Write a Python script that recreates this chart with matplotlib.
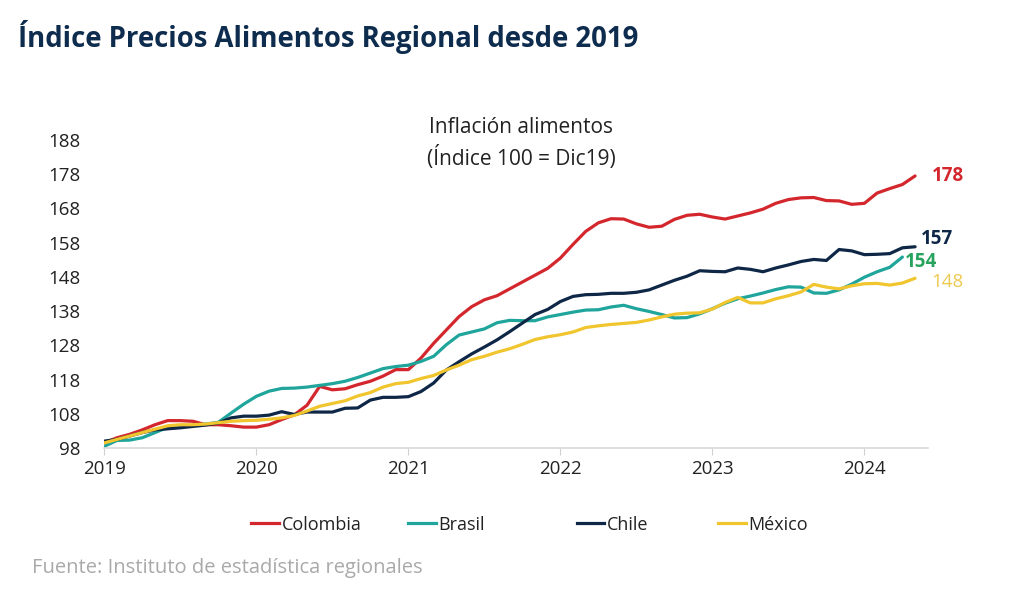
import matplotlib.pyplot as plt
from matplotlib.lines import Line2D
import numpy as np

plt.rcParams['font.family'] = ['Open Sans', 'DejaVu Sans']

# monthly index, Jan 2019 - May 2024
years = ['2019', '2020', '2021', '2022', '2023', '2024']
yticks = [98, 108, 118, 128, 138, 148, 158, 168, 178, 188]

colombia = [99.5, 101.0, 102.0, 103.3, 104.8, 106.0, 106.0, 105.8, 104.8, 104.8, 104.5, 104.1,
            104.1, 104.8, 106.3, 107.7, 110.5, 116.0, 115.0, 115.3, 116.5, 117.5, 119.0, 120.9,
            120.9, 124.3, 128.6, 132.5, 136.4, 139.3, 141.3, 142.5, 144.5, 146.5, 148.5, 150.5,
            153.5, 157.5, 161.3, 163.8, 165.0, 164.9, 163.5, 162.5, 162.8, 164.8, 166.0, 166.3,
            165.5, 164.9, 165.8, 166.7, 167.8, 169.5, 170.6, 171.1, 171.2, 170.3, 170.2, 169.2,
            169.5, 172.5, 173.8, 175.0, 177.5]
brasil = [98.5, 100.2, 100.3, 101.0, 102.5, 104.0, 104.3, 104.6, 105.0, 105.5, 108.2, 110.8,
          113.1, 114.6, 115.4, 115.5, 115.8, 116.3, 116.8, 117.5, 118.6, 119.9, 121.2, 121.8,
          122.2, 123.3, 124.8, 128.2, 131.0, 131.9, 132.8, 134.6, 135.3, 135.2, 135.2, 136.3,
          137.0, 137.7, 138.3, 138.4, 139.2, 139.7, 138.7, 137.9, 137.0, 136.0, 136.1, 137.2,
          138.7, 140.3, 141.6, 142.4, 143.3, 144.3, 145.1, 145.0, 143.3, 143.2, 144.2, 145.9,
          147.9, 149.5, 150.8, 153.8]
chile = [100.0, 100.5, 101.5, 102.5, 103.3, 103.6, 103.9, 104.3, 104.7, 105.3, 106.8, 107.3,
         107.3, 107.6, 108.6, 107.8, 108.5, 108.5, 108.5, 109.6, 109.7, 112.0, 112.8, 112.8,
         113.0, 114.5, 117.0, 120.8, 123.2, 125.5, 127.5, 129.6, 132.0, 134.5, 137.0, 138.5,
         140.8, 142.3, 142.8, 142.9, 143.2, 143.2, 143.5, 144.2, 145.6, 147.0, 148.2, 149.8,
         149.6, 149.5, 150.6, 150.2, 149.5, 150.6, 151.5, 152.5, 153.1, 152.8, 156.0, 155.6,
         154.5, 154.6, 154.8, 156.5, 156.8]
mexico = [99.5, 100.5, 101.5, 102.5, 103.5, 104.5, 104.8, 104.8, 105.0, 105.4, 105.8, 106.0,
          106.1, 106.4, 106.8, 107.5, 108.8, 110.2, 111.0, 111.8, 113.2, 114.2, 115.8, 116.8,
          117.2, 118.3, 119.2, 120.8, 122.2, 123.8, 124.8, 126.0, 127.0, 128.3, 129.7, 130.5,
          131.1, 131.9, 133.2, 133.7, 134.1, 134.4, 134.7, 135.4, 136.3, 137.1, 137.4, 137.5,
          138.6, 140.5, 142.0, 140.4, 140.4, 141.6, 142.5, 143.6, 145.8, 145.0, 144.5, 145.4,
          146.0, 146.1, 145.6, 146.2, 147.6]

series = [
    ('Colombia', colombia, '#d3272d', '#d3272d', 'bold'),
    ('Brasil', brasil, '#1fa59b', '#27a35e', 'bold'),
    ('Chile', chile, '#0f2747', '#0f2747', 'bold'),
    ('México', mexico, '#f0c52e', '#eec94f', 'normal'),
]
end_labels = {'Colombia': '178', 'Brasil': '154', 'Chile': '157', 'México': '148'}
label_offsets = {'Colombia': (17, 0), 'Brasil': (2, -5), 'Chile': (6, 8), 'México': (16, -4)}
legend_x = {'Colombia': 0.254, 'Brasil': 0.407, 'Chile': 0.572, 'México': 0.71}

fig = plt.figure(figsize=(10.24, 5.9), dpi=100)
ax = fig.add_axes([0.1019, 0.2407, 0.8041, 0.522])

for name, vals, col, lcol, w in series:
    x = np.arange(len(vals))
    ax.plot(x, vals, color=col, lw=2.3, solid_capstyle='round')
    dx, dy = label_offsets[name]
    ax.annotate(end_labels[name], (x[-1], vals[-1]), xytext=(dx, dy), textcoords='offset pixels',
                color=lcol, fontsize=13.5, fontweight=w, va='center', ha='left')
    h = Line2D([], [], color=col, lw=2.3)
    fig.legend([h], [name], loc='center left', bbox_to_anchor=(legend_x[name] - 0.009, 0.111),
               frameon=False, fontsize=13, handlelength=1.55, handletextpad=0.15,
               borderaxespad=0, borderpad=0, labelcolor='#222222')

ax.set_xlim(0, 65)
ax.set_ylim(98, 188)
ax.set_yticks(yticks)
ax.set_xticks(range(0, 72, 12))
ax.set_xticklabels(years)
ax.tick_params(axis='y', length=0, labelsize=13.5, colors='#222222', pad=17)
ax.tick_params(axis='x', length=5, color='#d0d0d0', labelsize=13.5, labelcolor='#222222', pad=4)
for s in ['top', 'right', 'left']:
    ax.spines[s].set_visible(False)
ax.spines['bottom'].set_color('#d8d8d8')
ax.spines['bottom'].set_linewidth(1.2)

fig.text(0.018, 0.937, 'Índice Precios Alimentos Regional desde 2019', fontsize=19.8,
         fontweight='bold', color='#0d2c4e', va='center', ha='left')
fig.text(0.509, 0.784, 'Inflación alimentos', fontsize=15,
         color='#222222', ha='center', va='center')
fig.text(0.509, 0.733, '(Índice 100 = Dic19)', fontsize=15,
         color='#222222', ha='center', va='center')

fig.text(0.031, 0.037, 'Fuente: Instituto de estadística regionales', fontsize=14.5,
         color='#a9a9a9', ha='left', va='center')

fig.savefig('out.png', dpi=100)
